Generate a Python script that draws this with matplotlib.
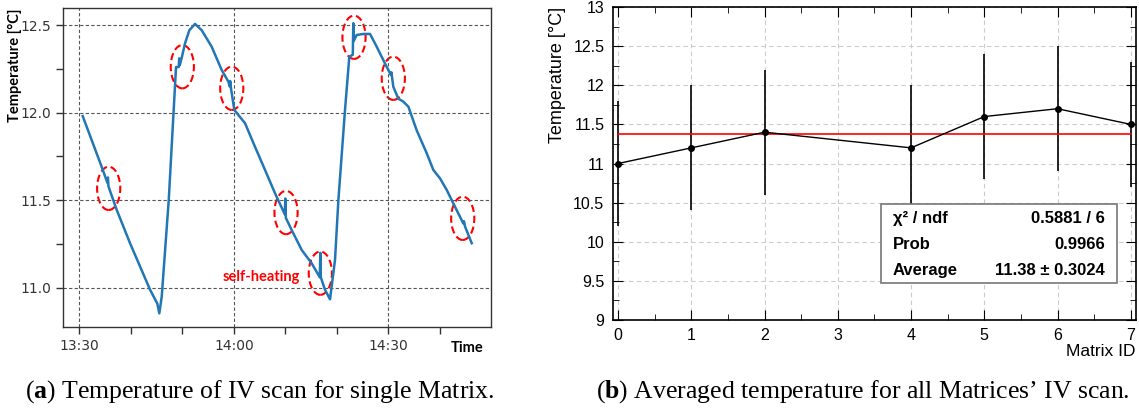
import matplotlib
matplotlib.use('Agg')
import matplotlib.pyplot as plt
from matplotlib.patches import Ellipse, Rectangle
from matplotlib.ticker import FixedLocator, FuncFormatter, MultipleLocator

# --- left panel: temperature log, minutes after 13:30 ---
time_min = [0.66, 4.35, 5.45, 5.55, 5.65, 7.26, 9.85, 13.73, 15.15, 15.53,
            16.0, 17.36, 18.78, 19.3, 19.4, 19.5, 19.94, 20.52, 21.36, 22.47,
            23.77, 25.7, 27.65, 28.94, 29.2, 29.3, 29.45, 30.1, 32.17, 34.1,
            36.06, 38.0, 39.9, 40.0, 40.1, 41.24, 43.19, 45.13, 46.7, 46.8,
            46.9, 47.7, 48.68, 49.65, 50.3, 51.59, 52.43, 53.1, 53.2, 53.3,
            53.86, 55.15, 56.45, 57.75, 59.36, 60.5, 60.6, 60.97, 61.94, 62.9,
            63.9, 65.5, 67.46, 68.74, 70.04, 71.34, 72.95, 74.56, 74.7, 74.9,
            76.2]
temp_log = [11.98, 11.69, 11.60, 11.63, 11.58, 11.445, 11.255, 10.99, 10.91, 10.855,
            10.95, 11.50, 12.26, 12.26, 12.31, 12.27, 12.32, 12.395, 12.47, 12.506,
            12.47, 12.376, 12.243, 12.177, 12.15, 12.18, 12.139, 12.015, 11.94, 11.806,
            11.673, 11.54, 11.42, 11.51, 11.40, 11.33, 11.216, 11.14, 11.06, 11.20,
            11.06, 10.99, 10.935, 11.16, 11.50, 12.015, 12.32, 12.33, 12.51, 12.41,
            12.443, 12.449, 12.449, 12.376, 12.28, 12.215, 12.23, 12.148, 12.08, 12.063,
            12.034, 11.90, 11.768, 11.673, 11.625, 11.559, 11.463, 11.368, 11.38, 11.35,
            11.255]

# self-heating marks
mark_t = [5.7, 20.0, 29.6, 40.14, 46.8, 53.34, 60.97, 74.45]
mark_T = [11.568, 12.262, 12.139, 11.43, 11.084, 12.43, 12.196, 11.397]

# --- right panel: averaged temperature per matrix ---
matrix_id = [0, 1, 2, 4, 5, 6, 7]
avg_temp = [11.0, 11.2, 11.4, 11.2, 11.6, 11.7, 11.5]
temp_err = [0.8, 0.8, 0.8, 0.8, 0.8, 0.8, 0.8]
fit_avg = 11.38
stats_names = ['χ² / ndf', 'Prob', 'Average']
stats_vals = ['0.5881 / 6', '0.9966', '11.38 ± 0.3024']

W, H = 1139, 412
plt.rcParams['mathtext.fontset'] = 'custom'
plt.rcParams['mathtext.rm'] = 'Liberation Serif'
plt.rcParams['mathtext.bf'] = 'Liberation Serif:bold'

fig = plt.figure(figsize=(W / 100, H / 100), dpi=100)


def box(x0, y0, x1, y1):
    return [x0 / W, 1 - y1 / H, (x1 - x0) / W, (y1 - y0) / H]


def fx(x):
    return x / W


def fy(y):
    return 1 - y / H


# ---------------- left ----------------
ax1 = fig.add_axes(box(63, 8, 491, 327))
ax1.plot(time_min, temp_log, color='#2177b5', lw=1.8)
for t, T in zip(mark_t, mark_T):
    ax1.add_patch(Ellipse((t, T), 4.5, 0.247, fill=False, edgecolor='red',
                          lw=1.5, linestyle=(0, (3.5, 1.8))))
ax1.text(35.4, 11.064, 'self-heating', color='red', fontsize=10.5,
         family='Lato', fontweight='bold', ha='center', va='center')

ax1.set_xlim(-3.17, 79.94)
ax1.set_ylim(10.777, 12.597)
ax1.xaxis.set_major_locator(FixedLocator([0, 30, 60]))
ax1.xaxis.set_minor_locator(FixedLocator([10, 20, 40, 50, 70]))
ax1.xaxis.set_major_formatter(FuncFormatter(
    lambda v, p: '%d:%02d' % (13 + (30 + int(v)) // 60, (30 + int(v)) % 60)))
ax1.yaxis.set_major_locator(MultipleLocator(0.5))
ax1.yaxis.set_minor_locator(MultipleLocator(0.25))
ax1.yaxis.set_major_formatter(FuncFormatter(lambda v, p: '%.1f' % v))
ax1.grid(True, which='major', color='#555555', linestyle=(0, (3, 2)), lw=0.8)
ax1.tick_params(which='both', length=5, width=1, color='#333333',
                labelsize=10, labelcolor='#333333')
for s in ax1.spines.values():
    s.set_color('#333333')
    s.set_linewidth(1.0)
fig.text(fx(15), fy(8), 'Temperature [°C]', rotation=90, ha='center', va='top',
         family='Lato', fontweight='bold', fontsize=10.5)
fig.text(fx(467), fy(348), 'Time', ha='center', va='center',
         family='Lato', fontweight='bold', fontsize=10.5)

# ---------------- right ----------------
ax2 = fig.add_axes(box(612.7, 7, 1136, 320))
ax2.errorbar(matrix_id, avg_temp, yerr=temp_err, fmt='o-', color='black',
             ms=4, lw=1.0, elinewidth=1.2, capsize=0)
ax2.plot([matrix_id[0], matrix_id[-1]], [fit_avg, fit_avg], color='red', lw=1.2)
ax2.set_xlim(-0.075, 7.072)
ax2.set_ylim(9, 13)
ax2.xaxis.set_major_locator(MultipleLocator(1))
ax2.xaxis.set_minor_locator(MultipleLocator(0.5))
ax2.yaxis.set_major_locator(MultipleLocator(0.5))
ax2.yaxis.set_minor_locator(MultipleLocator(0.25))
ax2.yaxis.set_major_formatter(FuncFormatter(lambda v, p: '%g' % v))
ax2.grid(True, which='major', color='#cccccc', linestyle=(0, (4, 3)), lw=0.8)
ax2.tick_params(which='both', direction='in', top=True, right=True,
                labelsize=11.5, labelcolor='black', pad=6)
ax2.tick_params(which='major', length=7)
ax2.tick_params(which='minor', length=4)
for lab in ax2.get_xticklabels() + ax2.get_yticklabels():
    lab.set_family('Liberation Sans')
for s in ax2.spines.values():
    s.set_linewidth(1.2)
fig.text(fx(557), fy(7), 'Temperature [°C]', rotation=90, ha='center', va='top',
         family='Liberation Sans', fontsize=13)
fig.text(fx(1136), fy(352), 'Matrix ID', ha='right', va='center',
         family='Liberation Sans', fontsize=12.5)

# stats box
fig.patches.append(Rectangle((fx(880.7), fy(282.7)), (1116.7 - 880.7) / W,
                             (282.7 - 204) / H, transform=fig.transFigure,
                             facecolor='white', edgecolor='#777777', lw=1.2,
                             zorder=5))
for i, (n, v) in enumerate(zip(stats_names, stats_vals)):
    y = fy(218.3 + 26 * i)
    fig.text(fx(892.7), y, n, ha='left', va='center', family='Liberation Sans',
             fontweight='bold', fontsize=12, zorder=6)
    fig.text(fx(1105), y, v, ha='right', va='center', family='Liberation Sans',
             fontweight='bold', fontsize=12, zorder=6)

# captions
fig.text(fx(260), fy(392), r'($\mathbf{a}$) Temperature of IV scan for single Matrix.',
         ha='center', va='center', family='Liberation Serif', fontsize=18.5)
fig.text(fx(863), fy(392), r'($\mathbf{b}$) Averaged temperature for all Matrices’ IV scan.',
         ha='center', va='center', family='Liberation Serif', fontsize=18.5)

fig.savefig('out.png', dpi=100)
